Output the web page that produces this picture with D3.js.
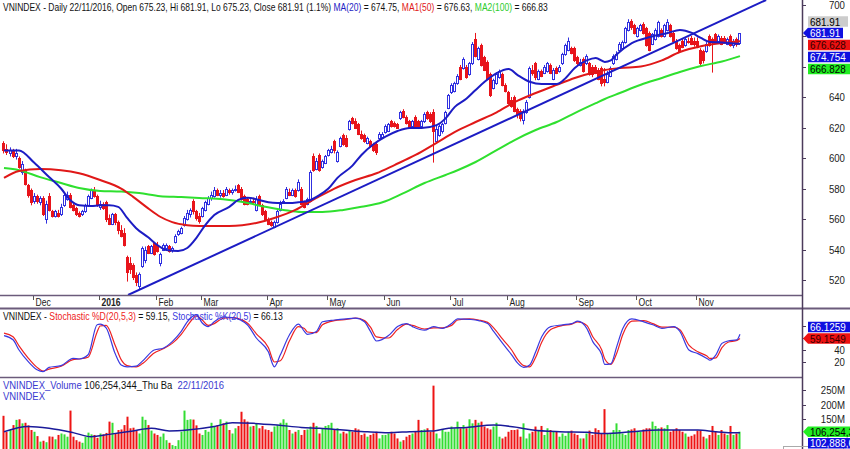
<!DOCTYPE html>
<html><head><meta charset="utf-8">
<script src="https://cdn.jsdelivr.net/npm/d3@7"></script>
<style>
body{margin:0;background:#fff}
svg{display:block}
text{font-family:"Liberation Sans",Arial,sans-serif}
</style>
</head><body>
<svg id="c" width="850" height="449"></svg>
<script>
// ---------------- DATA ----------------
const monthLabels = ["Dec","2016","Feb","Mar","Apr","May","Jun","Jul","Aug","Sep","Oct","Nov"];
const monthStarts = [10,32,51,66,88,108,127,149,168,191,211,231];
const opens = [610,606,603,605,601,600,591,592,582,579, 572,575,571,574,560,575,565,562,564,563, 569,573,576,569,567,564,563,565,569,574, 579,575,568,570,571,561,557,563,558,553, 551,535,531,530,523,516,529,533,542,538, 544,543,531,540,541,542,540,545,550,551, 556,560,563,572,565,562,562,566,570,574, 575,579,576,577,576,579,578,579,582,580, 575,573,571,572,566,575,569,565,560,558, 555,558,566,571,574,578,576,579,579,580, 571,570,572,601,593,602,594,597,602,604, 611,598,608,615,613,619,626,624,622,616, 615,610,611,609,609,613,614,617,618,624, 623,622,626,631,627,624,621,627,624,621, 624,630,629,630,611,615,618,623,633,643, 644,649,660,659,660,655,662,678,665,674, 666,663,655,646,649,653,655,648,643,638, 640,632,631,625,630,640,658,662,652,657, 656,657,661,652,659,657,662,668,671,672, 672,666,661,665,662,662,660,660,658,659, 652,650,654,662,665,671,672,676,684,690, 687,680,684,688,685,682,675,678,680,684, 680,684,687,682,677,674,677,674,677,679, 677,677,671,670,670,680,678,681,677,679, 679,675,680,674,678,675.23];
const highs = [611,609,607,606,606,601,598,593,583,580, 577,576,575,575,572,577,566,566,566,570, 577,578,577,570,568,565,566,570,576,580, 581,576,572,571,572,563,564,564,559,556, 554,536,535,531,525,525,542,542,543,543, 545,545,538,544,544,543,542,550,553,555, 562,566,567,573,566,564,568,572,575,578, 581,580,579,579,581,580,580,582,583,581, 576,574,573,574,575,576,570,566,561,559, 559,566,572,573,581,580,580,580,586,581, 572,574,592,603,600,603,599,602,606,608, 612,605,614,616,615,625,627,626,623,618, 616,614,612,610,610,617,617,622,623,625, 624,623,631,632,628,625,625,628,625,625, 630,631,630,632,621,622,623,631,642,649, 650,655,661,666,661,663,676,682,673,675, 667,664,656,652,656,658,656,649,644,640, 641,633,632,632,638,660,661,663,658,658, 661,663,662,659,660,661,669,675,679,673, 673,667,665,666,668,663,661,661,659,660, 659,657,660,668,670,676,677,686,691,691, 688,686,688,689,686,683,682,685,690,685, 688,691,688,683,678,675,678,679,679,680, 679,679,672,671,676,681,679,682,681,680, 680,679,681,678,679,681.91];
const lows = [603,602,601,600,599,593,589,582,574,569, 570,570,569,562,557,565,561,561,561,562, 568,572,567,565,562,561,562,564,568,573, 574,568,566,566,558,556,556,556,550,548, 542,519,524,520,516,514,528,531,537,537, 536,538,529,539,540,538,538,544,549,550, 555,559,561,563,559,557,561,565,569,572, 574,575,574,574,575,576,576,578,577,572, 569,569,570,570,565,569,562,559,556,555, 554,557,565,570,573,575,575,574,578,569, 567,569,571,591,592,591,593,596,601,603, 603,597,607,608,607,618,622,619,615,612, 610,609,607,604,602,612,613,616,617,620, 620,619,625,626,622,619,620,620,619,620, 623,625,623,597,610,614,616,622,632,642, 643,648,651,658,652,654,661,666,664,660, 657,651,640,645,648,652,647,643,635,633, 630,626,624,622,629,639,654,651,651,653, 655,656,655,651,655,656,661,667,670,668, 663,661,660,656,661,654,653,655,651,647, 647,649,653,661,664,670,671,675,683,684, 681,679,683,681,673,670,674,677,679,679, 679,683,679,676,671,669,672,673,675,674, 673,672,660,662,669,673,656,676,676,674, 675,674,673,672,673,675.23];
const closes = [605,604,605,601,603,594,596,583,576,571, 575,572,574,563,570,566,562,565,562,568, 576,576,568,566,563,562,565,569,575,579, 575,569,570,567,560,557,563,558,553,549, 543,525,527,522,519,524,541,540,538,542, 537,539,537,543,543,539,541,549,552,554, 561,564,566,565,561,559,567,571,574,576, 579,576,577,575,580,578,579,580,578,573, 570,570,572,571,573,570,563,560,557,556, 558,565,570,572,580,576,579,575,584,570, 568,573,591,592,598,592,598,601,605,606, 605,604,613,609,608,624,623,620,616,613, 611,613,608,605,604,616,616,621,622,621, 621,620,630,627,623,620,624,621,620,624, 629,626,624,618,619,621,622,630,641,648, 649,654,652,665,653,662,675,667,672,661, 658,652,641,651,655,657,648,644,636,634, 631,629,626,631,637,659,656,653,657,654, 660,662,656,658,656,660,668,674,677,669, 664,662,663,657,667,655,655,656,652,649, 650,655,659,667,668,675,676,685,689,686, 682,685,687,682,674,671,681,684,689,680, 687,689,680,677,672,670,673,678,676,675, 675,673,662,664,675,674,676,677,680,675, 676,678,674,677,674.5,681.91];
// volume in millions of shares
const volumes = [161,105,112,129,147,149,135,137,128,112, 106,91,72,75,70,90,89,80,95,100, 97,89,179,89,77,72,68,89,103,97, 95,85,100,97,102,141,137,100,112,114, 129,158,118,120,110,100,158,147,129,110, 100,95,89,100,77,68,60,57,77,106, 179,147,149,148,128,100,95,112,106,137, 124,129,149,135,141,112,100,118,126,175, 149,141,124,126,135,118,126,114,112,106, 124,129,137,149,137,112,100,106,112,95, 112,114,124,137,126,100,118,126,129,137, 112,118,100,106,100,110,106,118,114,95, 100,89,95,100,106,83,95,95,100,106, 100,83,72,77,89,95,100,106,147,112, 114,118,106,265,100,83,114,106,106,124, 118,141,118,129,118,149,135,147,137,141, 124,118,114,124,137,89,83,89,106,112, 112,114,89,135,83,100,106,124,112,126, 95,118,112,106,106,89,100,92,106,110, 100,95,83,83,100,110,95,118,112,100, 184,100,100,112,135,112,100,95,112,114, 118,106,106,114,118,118,141,126,118,121, 118,129,106,112,118,112,106,100,89,92, 97,110,110,89,83,95,126,106,95,112, 100,95,126,95,100,106.254344];
const lastVolume = 106254344;
const volumeDayName = "Thu Ba";
const dateText = "22/11/2016";
// moving averages read at sample bars: [bar index, value]
const ma20 = [[0,605],[5,605],[10,597],[15,587.5],[19,580],[22,572.5],[25,569],[29,568.5],[32,569],[35,569],[38,568],[41,560.7],[44,554],[48,548],[51,543],[54,539.7],[58,539],[61,541],[64,547.5],[67,556],[70,562.6],[75,568],[78,572.5],[81,574],[85,572.5],[88,571],[91,570.5],[95,570.5],[98,571],[101,571.8],[105,575.7],[108,580],[111,587],[116,595],[119,602],[123,609],[127,614],[131,617.7],[135,619.7],[139,619.7],[144,621.6],[147,626],[150,633.4],[154,639],[157,644.6],[160,650],[164,655.7],[168,658.4],[171,654.4],[175,650],[179,648.5],[184,648.5],[187,652.5],[190,659],[194,664],[197,665.6],[200,663],[202,664],[204,668],[209,675.4],[215,679.3],[221,682],[225,684],[229,682],[232,678.7],[235,676],[239,675.8],[242,675.3],[245,674.754]];
const ma50 = [[0,587],[5,591.5],[12,592.8],[19,592],[25,590],[32,585.6],[39,580],[43,574.5],[48,567],[52,561.5],[56,558],[61,556],[65,555.5],[75,555.4],[84,557.4],[90,560.7],[97,566],[104,573.8],[110,580],[117,585.6],[124,590],[130,595.4],[137,602],[144,610],[150,617],[157,623.6],[164,630],[170,636.7],[177,642.6],[184,648],[190,652.5],[197,656.4],[200,657.7],[205,659],[212,660],[219,664],[225,669.5],[232,673.3],[239,675.4],[245,676.628]];
const ma100 = [[0,593.4],[5,592],[12,587.5],[19,583.6],[25,580.3],[32,578.4],[39,578],[45,577],[52,575],[59,574.4],[65,573.8],[73,573],[80,571],[87,568],[93,566],[99,564.6],[106,564.6],[113,566],[119,568],[126,571],[133,577],[140,583.6],[147,588.9],[151,592],[157,597.4],[164,605.2],[170,611.8],[177,618.4],[184,623.6],[190,629.5],[197,636],[200,638.7],[205,642.6],[212,648],[219,652.5],[225,656.4],[232,660.3],[239,663.3],[245,666.828]];
const trendPoints = [[41.3,510.2],[253.7,703.6]];
// stochastic read at sample bars
const stochK = [[0,64],[3,57],[5,40],[8,21],[11,7],[13,4],[15,11],[19,14],[23,26],[25,25],[28,32],[31,82],[32,83],[34,77],[37,34],[39,15],[41,12],[44,13],[46,21],[50,40],[53,43],[56,54],[59,71],[61,87],[63,97],[64,99],[66,85],[68,79],[70,87],[73,95],[76,94],[81,82],[84,60],[88,37],[90,12],[92,32],[95,65],[98,83],[100,71],[101,66],[104,71],[106,87],[110,90],[114,92],[117,93],[120,87],[122,71],[124,55],[128,64],[131,79],[134,84],[136,79],[140,73],[143,79],[146,76],[149,84],[151,92],[155,91],[158,89],[161,84],[163,71],[166,51],[169,32],[171,18],[173,11],[175,15],[177,37],[179,62],[182,79],[186,82],[189,84],[191,88],[194,76],[196,54],[199,32],[200,16],[202,17],[204,46],[206,76],[209,92],[213,87],[216,82],[219,76],[223,79],[225,71],[228,40],[231,34],[234,26],[235,23],[237,32],[239,51],[241,55],[244,57],[245,66.1259]];
const stochD = [[0,68],[3,62],[5,47],[8,27],[11,11],[13,5],[15,8],[19,13],[23,24],[25,25],[28,28],[31,70],[32,80],[34,81],[37,48],[39,24],[41,14],[44,12],[46,17],[50,35],[53,42],[56,51],[59,66],[61,80],[63,93],[64,97],[66,90],[68,81],[70,84],[73,93],[76,94],[81,85],[84,67],[88,44],[90,20],[92,22],[95,55],[98,79],[100,76],[101,70],[104,69],[106,82],[110,89],[114,91],[117,93],[120,89],[122,78],[124,62],[128,60],[131,74],[134,83],[136,81],[140,75],[143,77],[146,77],[149,81],[151,90],[155,92],[158,90],[161,86],[163,77],[166,58],[169,40],[171,24],[173,14],[175,12],[177,28],[179,53],[182,74],[186,81],[189,83],[191,87],[194,81],[196,62],[199,40],[200,25],[202,16],[204,35],[206,66],[209,88],[213,89],[216,84],[219,78],[223,78],[225,74],[228,48],[231,37],[234,30],[235,26],[237,27],[239,44],[241,53],[244,56],[245,59.1549]];
// volume moving average (millions)
const volMA = [[0,106],[8,124],[15,118],[23,103],[29,89],[35,97],[43,109],[49,118],[55,109],[61,112],[70,124],[76,137],[83,135],[91,129],[99,121],[105,118],[113,112],[121,106],[128,103],[135,106],[140,108],[143,109],[148,118],[154,121],[163,129],[171,121],[176,112],[185,106],[194,104],[200,100],[209,106],[218,112],[225,112],[231,112],[237,106],[242,103],[245,102.8886]];
const priceTicks = [520,540,560,580,600,620,640,660,680,700];
const stochTicks = [20,40,60,80];
const volTicks = [150,200,250];

// ---------------- LAYOUT ----------------
const W = 850, H = 449, PX = 802;
const MAIN = [0, 295], STO = [309, 377], VOL = [378, 449];
const C = {up:"#3030e0", dn:"#e8141b", ma20:"#1c1cc4", ma50:"#e01818", ma100:"#2fe02f",
  volUp:"#33dd33", volDn:"#ee1414", sep:"#6b5b7b", axis:"#4b3b5b", txt:"#222", kBlue:"#3a3ae0", dRed:"#ee2222", volMA:"#1a1a9a", titleBlue:"#3a3ad0"};

const N = closes.length;
const bars = d3.range(N).map(i => ({i, o:opens[i], h:highs[i], l:lows[i], c:closes[i], v:volumes[i]}));

const x = d3.scaleLinear().domain([-1.33, 265.65]).range([0, PX]);
const y = d3.scaleLinear().domain([510.2, 703.6]).range([MAIN[1], 0]);
const ys = d3.scaleLinear().domain([0, 100]).range([374, 314]);
const yv = d3.scaleLinear().domain([0, 250]).range([462.5, 390]);
const cx = i => Math.floor(x(i)) + 0.5;

const svg = d3.select("#c");
svg.append("rect").attr("width", W).attr("height", H).attr("fill", "#fff");
const defs = svg.append("defs");
function clip(id, y0, y1){ defs.append("clipPath").attr("id", id).append("rect").attr("x",0).attr("y",y0).attr("width",PX).attr("height",y1-y0); }
clip("cm", MAIN[0], MAIN[1]); clip("cs", STO[0], STO[1]); clip("cv", VOL[0], VOL[1]);

// helper: text with horizontal condensing (the original UI font is narrower than Arial)
function addText(parent, tx, ty, str, fs, sx, anchor, fill, weight){
  return parent.append("text").attr("transform", `translate(${tx},${ty}) scale(${sx},1)`)
    .attr("font-size", fs).attr("text-anchor", anchor || "start")
    .attr("font-weight", weight || "normal").attr("fill", fill || C.txt).text(str);
}

// ---------------- MAIN PANEL ----------------
const gM = svg.append("g").attr("clip-path", "url(#cm)");
const isUp = d => d.c >= d.o;
gM.selectAll("line.wick").data(bars).join("line").attr("class","wick")
  .attr("x1", d => cx(d.i)).attr("x2", d => cx(d.i))
  .attr("y1", d => y(d.h)).attr("y2", d => y(d.l))
  .attr("stroke", d => isUp(d) ? C.up : C.dn).attr("stroke-width", 1);
gM.selectAll("rect.body").data(bars).join("rect").attr("class","body")
  .attr("x", d => cx(d.i) - 1).attr("width", 2)
  .attr("y", d => Math.round(y(Math.max(d.o, d.c))) + 0.5)
  .attr("height", d => Math.max(1, Math.round(y(Math.min(d.o, d.c))) - Math.round(y(Math.max(d.o, d.c)))))
  .attr("fill", d => isUp(d) ? "#fff" : C.dn)
  .attr("stroke", d => isUp(d) ? C.up : C.dn).attr("stroke-width", 1);

const lineOn = sc => d3.line().x(d => x(d[0])).y(d => sc(d[1])).curve(d3.curveMonotoneX);
gM.append("path").datum(ma100).attr("d", lineOn(y)).attr("fill","none").attr("stroke",C.ma100).attr("stroke-width",2);
gM.append("path").datum(ma50).attr("d", lineOn(y)).attr("fill","none").attr("stroke",C.ma50).attr("stroke-width",2);
gM.append("path").datum(ma20).attr("d", lineOn(y)).attr("fill","none").attr("stroke",C.ma20).attr("stroke-width",2);
gM.append("path").datum(trendPoints).attr("d", d3.line().x(d=>x(d[0])).y(d=>y(d[1]))).attr("fill","none").attr("stroke",C.ma20).attr("stroke-width",2);

// ---------------- STOCHASTIC PANEL ----------------
const gS = svg.append("g").attr("clip-path", "url(#cs)");
gS.append("path").datum(stochD).attr("d", lineOn(ys)).attr("fill","none").attr("stroke",C.dRed).attr("stroke-width",1.2);
gS.append("path").datum(stochK).attr("d", lineOn(ys)).attr("fill","none").attr("stroke",C.kBlue).attr("stroke-width",1.2);

// ---------------- VOLUME PANEL ----------------
const gV = svg.append("g").attr("clip-path", "url(#cv)");
gV.selectAll("rect.vol").data(bars).join("rect").attr("class","vol")
  .attr("x", d => Math.floor(x(d.i)) - 0.5).attr("width", 2)
  .attr("y", d => yv(d.v)).attr("height", d => yv(0) - yv(d.v))
  .attr("fill", d => isUp(d) ? C.volUp : C.volDn);
gV.append("path").datum(volMA).attr("d", lineOn(yv)).attr("fill","none").attr("stroke",C.volMA).attr("stroke-width",1.5);

// ---------------- FRAMES ----------------
const fr = svg.append("g");
fr.append("line").attr("x1",0).attr("x2",PX).attr("y1",295.5).attr("y2",295.5).attr("stroke",C.sep).attr("stroke-width",1.5);
fr.append("line").attr("x1",0).attr("x2",W).attr("y1",308.5).attr("y2",308.5).attr("stroke",C.sep).attr("stroke-width",2);
fr.append("line").attr("x1",0).attr("x2",PX).attr("y1",377.5).attr("y2",377.5).attr("stroke",C.sep).attr("stroke-width",1.5);
fr.append("line").attr("x1",PX+0.5).attr("x2",PX+0.5).attr("y1",0).attr("y2",H).attr("stroke",C.axis).attr("stroke-width",1.5);
fr.append("rect").attr("x",783.5).attr("y",446.5).attr("width",60).attr("height",10).attr("fill","none").attr("stroke","#aaa");

// date axis
const gD = svg.append("g");
monthStarts.forEach((m, k) => {
  const xx = Math.floor(x(m)) - 0.5;
  gD.append("line").attr("x1",xx).attr("x2",xx).attr("y1",296).attr("y2",300).attr("stroke","#555");
  addText(gD, xx + 2, 305.5, monthLabels[k], 10, 0.86, "start", C.txt, monthLabels[k] === "2016" ? "bold" : "normal");
});

// ---------------- TAG LAYOUT ----------------
function stack(list, sc, gap, dir){
  let prev = null;
  list.forEach(t => {
    let yy = sc(t.v);
    if (prev !== null) yy = dir > 0 ? Math.max(yy, prev + gap) : Math.min(yy, prev - gap);
    t.y = yy; prev = yy;
  });
  return list;
}
const lastC = closes[N-1];
const f2 = d3.format(".2f"), f3 = d3.format(".3f"), f4 = d3.format(".4f"), fc = d3.format(",.0f");
const mainTags = stack([
  {v:lastC, label:f2(lastC), fill:"#1010e0", color:"#fff", arrow:true, end:843},
  {v:ma50[ma50.length-1][1], label:f3(ma50[ma50.length-1][1]), fill:"#ee1111", color:"#300", arrow:false, end:852},
  {v:ma20[ma20.length-1][1], label:f3(ma20[ma20.length-1][1]), fill:"#1010e0", color:"#fff", arrow:false, end:852},
  {v:ma100[ma100.length-1][1], label:f3(ma100[ma100.length-1][1]), fill:"#22ee22", color:"#000", arrow:false, end:852}
], y, 12, 1);
const grayTag = {y: mainTags[0].y - 11.5, label: f2(lastC), fill:"#cccccc", color:"#000", arrow:false, end:848};
const stoTags = stack([
  {v:stochD[stochD.length-1][1], label:f4(stochD[stochD.length-1][1]), fill:"#ee1111", color:"#300", arrow:true, end:852},
  {v:stochK[stochK.length-1][1], label:f4(stochK[stochK.length-1][1]), fill:"#1010e0", color:"#fff", arrow:false, end:852}
], ys, 11.5, -1);
const volTags = stack([
  {v:volumes[N-1], label:fc(lastVolume), fill:"#22ee22", color:"#000", arrow:true, end:852},
  {v:volMA[volMA.length-1][1], label:fc(volMA[volMA.length-1][1]*1e6), fill:"#1010e0", color:"#fff", arrow:false, end:852}
], yv, 11.5, 1);
const allTags = [grayTag, ...mainTags, ...stoTags, ...volTags];

// right axes (labels that sit under a value tag are hidden, as in the original)
function axisLabels(ticks, sc, fmt){
  ticks.forEach(t => {
    const yy = Math.round(sc(t)) + 0.5;
    svg.append("line").attr("x1",PX).attr("x2",PX+4).attr("y1",yy).attr("y2",yy).attr("stroke",C.axis);
    const covered = allTags.some(tg => Math.abs(tg.y - yy) < 9);
    if (!covered) addText(svg, 845, yy + 3.5, fmt(t), 10.5, 0.92, "end", C.txt);
  });
}
axisLabels(priceTicks, y, d => d);
axisLabels(stochTicks, ys, d => d);
axisLabels(volTicks, yv, d => d + "M");

function drawTag(t){
  const g = svg.append("g");
  const h = 10.5, x0 = 808, x1 = t.end, cy = t.y;
  const pts = t.arrow ? [[803,cy],[x0,cy-h/2],[x1,cy-h/2],[x1,cy+h/2],[x0,cy+h/2]]
                      : [[x0,cy-h/2],[x1,cy-h/2],[x1,cy+h/2],[x0,cy+h/2]];
  g.append("polygon").attr("points", pts.map(p=>p.join(",")).join(" ")).attr("fill", t.fill);
  addText(g, 810, cy + 4, t.label, 11.5, 0.86, "start", t.color);
}
allTags.forEach(drawTag);

// ---------------- TITLES ----------------
function title(yy, parts, fs, sx){
  const t = svg.append("text").attr("transform", `translate(3,${yy}) scale(${sx},1)`).attr("font-size", fs).attr("xml:space","preserve");
  parts.forEach(p => t.append("tspan").attr("fill", p[1]).text(p[0]));
}
const last = bars[N-1], prevC = closes[N-2];
const pct = d3.format(".1f")((last.c - prevC) / prevC * 100);
title(11, [
  [`VNINDEX - Daily ${dateText}, Open ${f2(last.o)}, Hi ${f2(last.h)}, Lo ${f2(last.l)}, Close ${f2(last.c)} (${pct}%) `, "#111"],
  ["MA(20)", C.ma20], [` = ${f2(ma20[ma20.length-1][1])}, `, "#111"],
  ["MA1(50)", C.ma50], [` = ${f2(ma50[ma50.length-1][1])}, `, "#111"],
  ["MA2(100)", "#2ccc2c"], [` = ${f2(ma100[ma100.length-1][1])}`, "#111"]
], 10.5, 0.81);
title(320, [
  ["VNINDEX - ", "#111"], ["Stochastic %D(20,5,3)", C.dRed], [` = ${f2(stochD[stochD.length-1][1])}, `, "#111"],
  ["Stochastic %K(20,5)", C.kBlue], [` = ${f2(stochK[stochK.length-1][1])}`, "#111"]
], 10.5, 0.83);
title(388.5, [
  ["VNINDEX_Volume", C.titleBlue], [` ${fc(lastVolume)}_${volumeDayName}  `, "#111"], [dateText, C.titleBlue]
], 10.5, 0.9);
title(399.5, [["VNINDEX", C.titleBlue]], 10.5, 0.9);
</script>
</body></html>
